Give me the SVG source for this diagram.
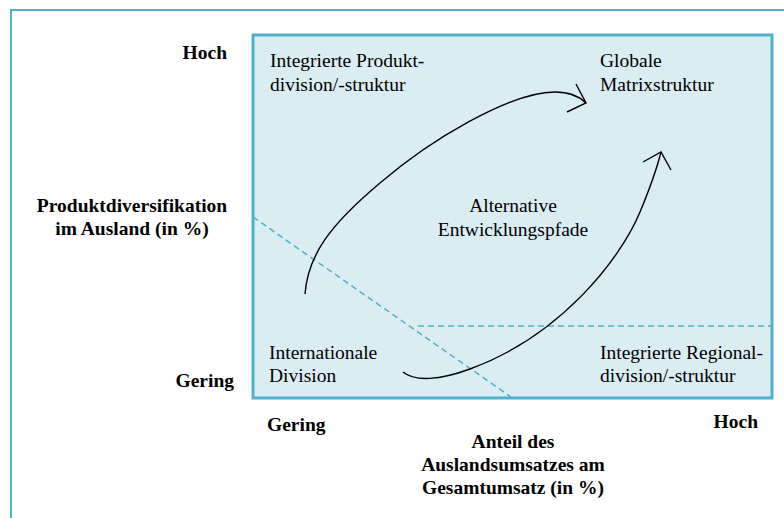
<svg xmlns="http://www.w3.org/2000/svg" width="784" height="518" viewBox="0 0 784 518">
  <style>
    .frame { fill: none; stroke: #4fb1cd; stroke-width: 2; }
    .plot { fill: #daedf3; stroke: #4fb1cd; stroke-width: 3; }
    .divider { fill: none; stroke: #4fb1cd; stroke-width: 1.5; stroke-dasharray: 6 4; }
    .path { fill: none; stroke: #000; stroke-width: 1.4; }
    .lbl { font-family: "Liberation Serif", "Times New Roman", serif; font-size: 19.5px; fill: #000; }
    .axis { font-family: "Liberation Serif", "Times New Roman", serif; font-size: 19.5px; font-weight: bold; fill: #000; }
    .mid { text-anchor: middle; }
  </style>

  <!-- outer frame, running off the right and bottom edges -->
  <rect class="frame" x="11" y="10" width="800" height="600"/>

  <!-- portfolio plane -->
  <g id="plane">
    <rect class="plot" x="253" y="35" width="519" height="363"/>
  </g>

  <!-- quadrant dividers -->
  <g id="dividers">
    <line class="divider" x1="253" y1="217" x2="511" y2="397"/>
    <line class="divider" x1="418" y1="326" x2="771" y2="326"/>
  </g>

  <!-- development paths -->
  <g id="connectors">
    <path class="path" d="M305,294 C308,255 330,225 380,183 C430,140 510,92 555,92 C570,92 580,97 586,103"/>
    <polyline class="path" points="576,84 586,103 567,112"/>
    <path class="path" d="M403,372 C415,382 440,380 470,369 C560,336 620,260 640,212 C650,188 657,168 661,152"/>
    <polyline class="path" points="643,162 661,152 671,170"/>
  </g>

  <!-- quadrant labels -->
  <g id="node-produktdivision">
    <text class="lbl" x="270" y="67">Integrierte Produkt-</text>
    <text class="lbl" x="270" y="91">division/-struktur</text>
  </g>
  <g id="node-matrix">
    <text class="lbl" x="600" y="67">Globale</text>
    <text class="lbl" x="600" y="91">Matrixstruktur</text>
  </g>
  <g id="node-pfade">
    <text class="lbl mid" x="513" y="212">Alternative</text>
    <text class="lbl mid" x="513" y="236">Entwicklungspfade</text>
  </g>
  <g id="node-international">
    <text class="lbl" x="269" y="359">Internationale</text>
    <text class="lbl" x="269" y="382">Division</text>
  </g>
  <g id="node-regional">
    <text class="lbl" x="600" y="359">Integrierte Regional-</text>
    <text class="lbl" x="600" y="382">division/-struktur</text>
  </g>

  <!-- vertical axis -->
  <g id="axis-y">
    <text class="axis" x="227" y="59" text-anchor="end">Hoch</text>
    <text class="axis mid" x="132" y="212">Produktdiversifikation</text>
    <text class="axis mid" x="132" y="235">im Ausland (in %)</text>
    <text class="axis" x="234" y="387" text-anchor="end">Gering</text>
  </g>

  <!-- horizontal axis -->
  <g id="axis-x">
    <text class="axis" x="267" y="431">Gering</text>
    <text class="axis" x="758" y="428" text-anchor="end">Hoch</text>
    <text class="axis mid" x="513" y="448">Anteil des</text>
    <text class="axis mid" x="513" y="471">Auslandsumsatzes am</text>
    <text class="axis mid" x="513" y="494">Gesamtumsatz (in %)</text>
  </g>
</svg>
